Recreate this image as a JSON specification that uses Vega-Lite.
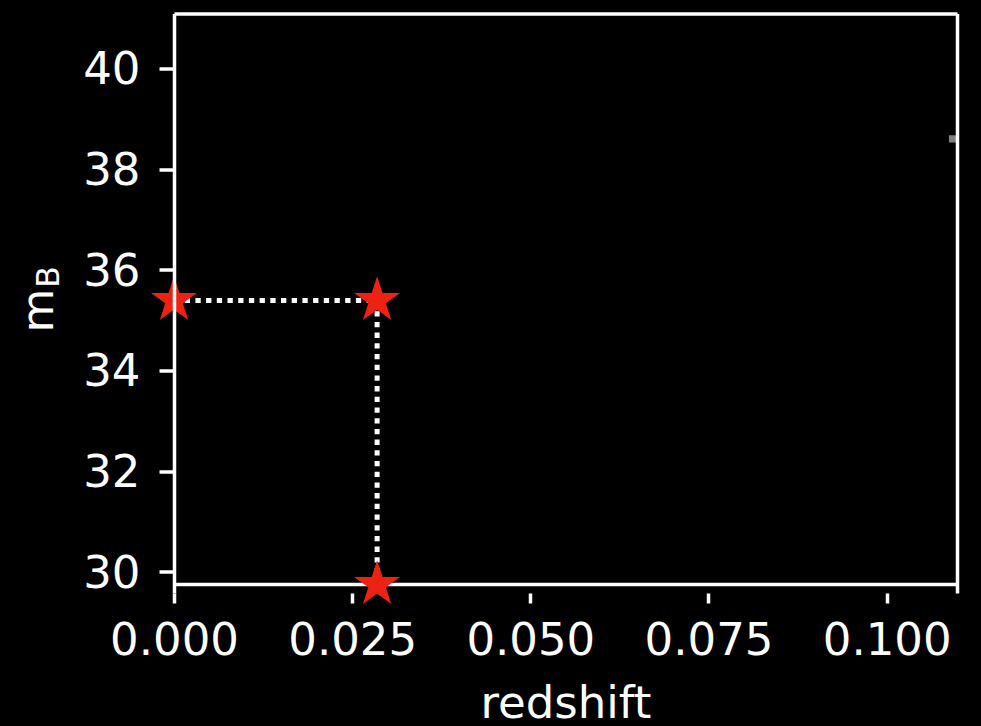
{
  "$schema": "https://vega.github.io/schema/vega-lite/v6.json",
  "width": 783,
  "height": 579.5,
  "autosize": {"type": "none"},
  "padding": {"left": 174, "top": 13.5, "right": 24, "bottom": 133},
  "background": "black",
  "config": {"view": {"stroke": null}, "font": "DejaVu Sans"},
  "datasets": {
    "stars": [
      {"redshift": 0, "mB": 35.39},
      {"redshift": 0.0285, "mB": 35.39},
      {"redshift": 0.0285, "mB": 29.75}
    ],
    "guides": [
      {"x1": 0, "x2": 0.0285, "y1": 35.39, "y2": 35.39},
      {"x1": 0.0285, "x2": 0.0285, "y1": 35.39, "y2": 29.75}
    ],
    "floor": [{"x1": 0, "x2": 0.10987, "y1": 29.75}],
    "gray": [{"redshift": 0.10926, "mB": 38.6}]
  },
  "layer": [
    {
      "data": {"name": "guides"},
      "mark": {"type": "rule", "color": "white", "strokeWidth": 5, "strokeDash": [5.3, 5.4]},
      "encoding": {
        "x": {
          "field": "x1", "type": "quantitative",
          "scale": {"domain": [0, 0.10987], "nice": false, "zero": false},
          "axis": {
            "orient": "top", "domain": true, "domainColor": "white", "domainWidth": 3.5,
            "ticks": false, "labels": false, "grid": false,
            "title": "B", "titleAngle": -90, "titleX": -116, "titleY": 263,
            "titleFontSize": 31.5, "titleColor": "white", "titleFontWeight": "normal",
            "titleAlign": "center", "titleBaseline": "alphabetic", "zindex": 1
          }
        },
        "x2": {"field": "x2"},
        "y": {
          "field": "y1", "type": "quantitative",
          "scale": {"domain": [29.58, 41.09], "nice": false, "zero": false},
          "axis": {
            "orient": "right", "domain": true, "domainColor": "white", "domainWidth": 3.5,
            "ticks": false, "labels": false, "grid": false, "title": null, "zindex": 1
          }
        },
        "y2": {"field": "y2"}
      }
    },
    {
      "data": {"name": "floor"},
      "mark": {"type": "rule", "color": "white", "strokeWidth": 3.5},
      "encoding": {
        "x": {"field": "x1", "type": "quantitative", "axis": null},
        "x2": {"field": "x2"},
        "y": {"field": "y1", "type": "quantitative", "axis": null}
      }
    },
    {
      "data": {"name": "gray"},
      "mark": {"type": "square", "color": "gray", "size": 55, "opacity": 1, "filled": true, "clip": true},
      "encoding": {
        "x": {"field": "redshift", "type": "quantitative", "axis": null},
        "y": {"field": "mB", "type": "quantitative", "axis": null}
      }
    },
    {
      "data": {"name": "stars"},
      "mark": {
        "type": "point",
        "shape": "M0,-1L0.2245,-0.309L0.9511,-0.309L0.3633,0.118L0.5878,0.809L0,0.382L-0.5878,0.809L-0.3633,0.118L-0.9511,-0.309L-0.2245,-0.309Z",
        "size": 2340, "filled": true, "color": "#ee2211", "opacity": 1, "strokeWidth": 0
      },
      "encoding": {
        "x": {
          "field": "redshift", "type": "quantitative",
          "axis": {
            "orient": "bottom", "domain": false, "ticks": true, "tickColor": "white", "tickWidth": 3.5, "tickSize": 10,
            "labels": true, "labelColor": "white", "labelFontSize": 45, "labelPadding": 15,
            "labelFlush": false, "labelOverlap": false, "grid": false,
            "values": [0, 0.025, 0.05, 0.075, 0.1], "format": ".3f",
            "title": "redshift", "titleColor": "white", "titleFontSize": 45, "titleFontWeight": "normal",
            "titleX": 391.5, "titleY": 124, "titleAlign": "center", "titleBaseline": "alphabetic", "zindex": 1
          }
        },
        "y": {
          "field": "mB", "type": "quantitative",
          "axis": {
            "orient": "left", "domain": true, "domainColor": "white", "domainWidth": 3.5,
            "ticks": true, "tickColor": "white", "tickWidth": 3.5, "tickSize": 15,
            "labels": true, "labelColor": "white", "labelFontSize": 45, "labelPadding": 19, "labelOffset": 1.5,
            "labelFlush": false, "labelOverlap": false, "grid": false,
            "values": [30, 32, 34, 36, 38, 40],
            "title": "m", "titleX": -122, "titleY": 296.5, "titleAngle": -90,
            "titleAlign": "center", "titleBaseline": "alphabetic",
            "titleFontSize": 45, "titleColor": "white", "titleFontWeight": "normal", "zindex": 1
          }
        }
      }
    }
  ],
  "resolve": {"axis": {"x": "independent", "y": "independent"}}
}
